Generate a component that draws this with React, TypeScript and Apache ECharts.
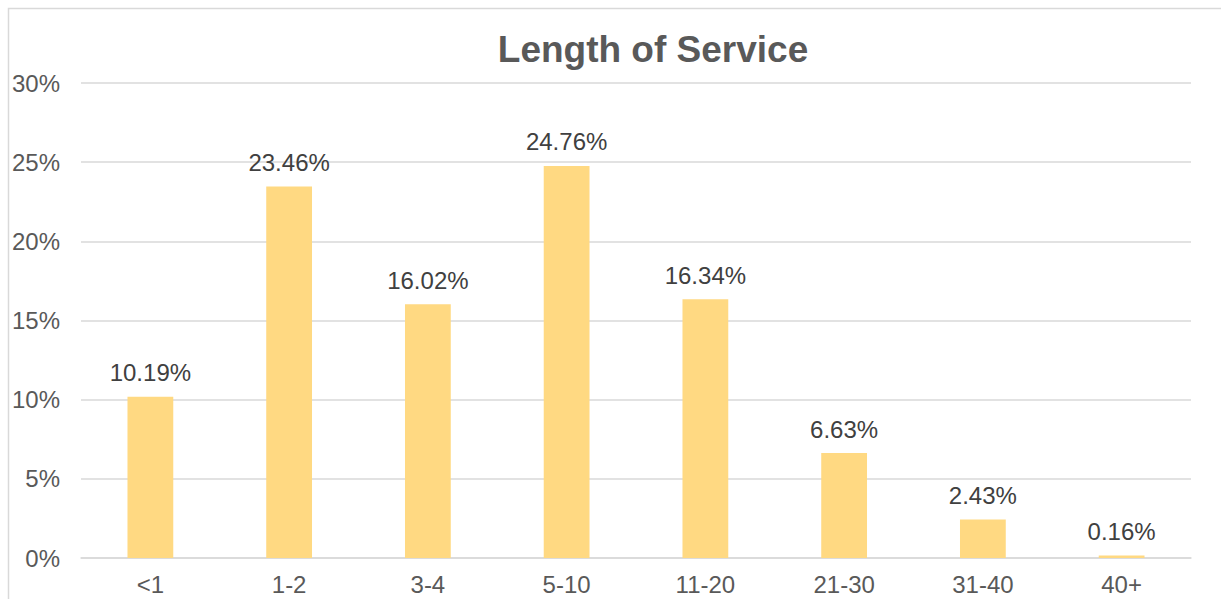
import React, { useEffect, useRef } from "react";
import * as echarts from "echarts";

const categories = ["<1", "1-2", "3-4", "5-10", "11-20", "21-30", "31-40", "40+"];
const values = [10.19, 23.46, 16.02, 24.76, 16.34, 6.63, 2.43, 0.16];
const titleText = "Length of Service";

export default function App() {
  const ref = useRef<HTMLDivElement>(null);
  useEffect(() => {
    if (!ref.current) return;
    const chart = echarts.init(ref.current, null, { renderer: "svg" });
    const font = "'Liberation Sans', Arial, sans-serif";
    chart.setOption({
      animation: false,
      backgroundColor: "#ffffff",
      title: {
        text: titleText,
        left: 648,
        top: 26,
        textAlign: "center",
        textStyle: { fontFamily: font, fontSize: 37, fontWeight: "bold", color: "#595959" },
      },
      graphic: [
        {
          type: "polyline",
          shape: { points: [[8.5, 600], [8.5, 8.5], [1222, 8.5]] },
          style: { stroke: "#d9d9d9", lineWidth: 1.5, fill: null },
          silent: true,
        },
      ],
      grid: { left: 81, right: 30, top: 83, bottom: 41, containLabel: false },
      xAxis: {
        type: "category",
        data: categories,
        axisLine: { lineStyle: { color: "#d9d9d9", width: 1.5 } },
        axisTick: { show: false },
        axisLabel: { fontFamily: font, fontSize: 24, color: "#595959", margin: 14 },
      },
      yAxis: {
        type: "value",
        min: 0,
        max: 30,
        interval: 5,
        axisLine: { show: false },
        axisTick: { show: false },
        splitLine: { lineStyle: { color: "#d9d9d9", width: 1.5 } },
        axisLabel: { fontFamily: font, fontSize: 24, color: "#595959", margin: 21, formatter: "{value}%" },
      },
      series: [
        {
          type: "bar",
          data: values,
          barCategoryGap: "67%",
          itemStyle: { color: "#FFD982" },
          label: {
            show: true,
            position: "top",
            distance: 12,
            fontFamily: font,
            fontSize: 24,
            color: "#404040",
            formatter: (p: any) => p.value.toFixed(2) + "%",
          },
        },
      ],
    });
    return () => chart.dispose();
  }, []);
  return <div ref={ref} style={{ position: "fixed", left: 0, top: 0, width: 1221, height: 599 }} />;
}
